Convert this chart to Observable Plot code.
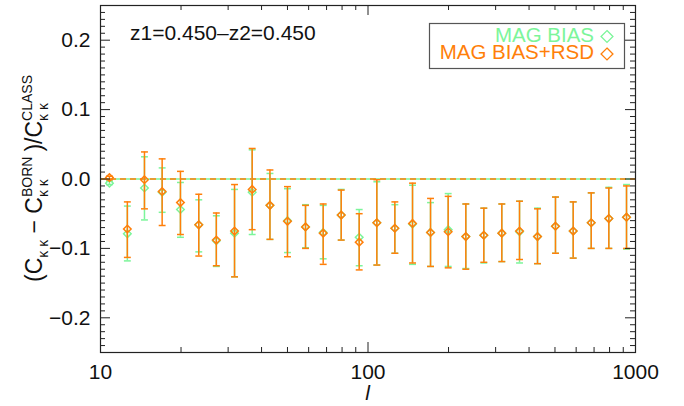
<!DOCTYPE html>
<html><head><meta charset="utf-8">
<script src="https://cdn.jsdelivr.net/npm/d3@7"></script>
<script src="https://cdn.jsdelivr.net/npm/@observablehq/plot@0.6"></script>
<style>body{margin:0;background:#fff} #chart{width:684px;height:406px}</style>
</head><body><div id="chart"></div>
<script>
// multipole bins
const ell = [10.8, 12.6, 14.6, 17.0, 19.9, 23.3, 27.1, 31.7, 36.9, 43.0,
             50.0, 58.4, 68.0, 79.4, 92.7, 107.9, 126.0, 146.7, 171.3, 199.4,
             232.1, 271.0, 316.4, 368.5, 430.2, 502.2, 584.9, 683.0, 794.8, 925.6];
// MAG BIAS series (green)
const magY  = [-0.006,-0.079,-0.013,-0.019,-0.044,-0.066,-0.089,-0.078,-0.019,-0.038,
               -0.060,-0.069,-0.077,-0.052,-0.084,-0.063,-0.071,-0.065,-0.077,-0.073,
               -0.083,-0.081,-0.078,-0.076,-0.083,-0.068,-0.075,-0.063,-0.057,-0.055];
const magLo = [-0.008,-0.118,-0.059,-0.048,-0.084,-0.105,-0.126,-0.141,-0.080,-0.087,
               -0.106,-0.099,-0.115,-0.088,-0.125,-0.124,-0.107,-0.123,-0.126,-0.126,
               -0.129,-0.121,-0.119,-0.121,-0.122,-0.107,-0.114,-0.100,-0.100,-0.101];
const magHi = [-0.003,-0.039, 0.032, 0.016,-0.005,-0.030,-0.053,-0.015, 0.042, 0.008,
               -0.014,-0.037,-0.038,-0.015,-0.044,-0.004,-0.037,-0.009,-0.034,-0.021,
               -0.036,-0.042,-0.036,-0.032,-0.042,-0.026,-0.033,-0.020,-0.012,-0.008];
// MAG BIAS+RSD series (orange)
const rsdY  = [ 0.002,-0.072,-0.001,-0.018,-0.034,-0.066,-0.088,-0.075,-0.015,-0.038,
               -0.061,-0.069,-0.078,-0.052,-0.091,-0.063,-0.071,-0.064,-0.077,-0.076,
               -0.083,-0.081,-0.078,-0.075,-0.083,-0.068,-0.075,-0.063,-0.057,-0.055];
const rsdLo = [-0.001,-0.113,-0.043,-0.067,-0.080,-0.111,-0.125,-0.141,-0.073,-0.087,
               -0.112,-0.100,-0.123,-0.088,-0.131,-0.124,-0.107,-0.121,-0.126,-0.128,
               -0.130,-0.120,-0.119,-0.116,-0.122,-0.107,-0.114,-0.100,-0.100,-0.100];
const rsdHi = [ 0.004,-0.033, 0.039, 0.029, 0.011,-0.022,-0.049,-0.008, 0.044, 0.013,
               -0.011,-0.038,-0.036,-0.016,-0.050,-0.001,-0.033,-0.006,-0.028,-0.025,
               -0.036,-0.042,-0.036,-0.032,-0.043,-0.026,-0.033,-0.020,-0.013,-0.010];

const seriesNames = ["MAG BIAS", "MAG BIAS+RSD"];
const seriesColors = ["#7cf59a", "#ff7f0a"];
const xTickLabels = [10, 100, 1000];
const yTickLabels = [-0.2, -0.1, 0.0, 0.1, 0.2];
const titleText = "z1=0.450\u2013z2=0.450";

const mag = ell.map((l, i) => ({l, y: magY[i], lo: magLo[i], hi: magHi[i]}));
const rsd = ell.map((l, i) => ({l, y: rsdY[i], lo: rsdLo[i], hi: rsdHi[i]}));

const W = 684, H = 406, mL = 100, mR = 49, mT = 5, mB = 54;
const pw = W - mL - mR, ph = H - mT - mB;
const font = "'Liberation Sans', Arial, Helvetica, sans-serif";

const xMinor = [2,3,4,5,6,7,8,9].flatMap(k => [k*10, k*100]);
const yMinor = d3.range(-25, 26).map(k => k / 100).filter(v => Math.abs(Math.round(v*100) % 10) !== 0);

const capSymbol = {draw(ctx, size) { const w = Math.sqrt(size) / 2; ctx.moveTo(-w, 0); ctx.lineTo(w, 0); }};

function seriesMarks(data, color) {
  return [
    Plot.ruleX(data, {x: "l", y1: "lo", y2: "hi", stroke: color, strokeWidth: 1.5}),
    Plot.dot(data, {x: "l", y: "lo", symbol: capSymbol, r: 3.9, stroke: color, strokeWidth: 1.5, fill: "none"}),
    Plot.dot(data, {x: "l", y: "hi", symbol: capSymbol, r: 3.9, stroke: color, strokeWidth: 1.5, fill: "none"}),
    Plot.dot(data, {x: "l", y: "y", symbol: "diamond2", r: 3.4, stroke: color, strokeWidth: 1.5, fill: "none"})
  ];
}

const plot = Plot.plot({
  width: W, height: H,
  marginLeft: mL, marginRight: mR, marginTop: mT, marginBottom: mB,
  style: {fontFamily: font, fontSize: "21px", background: "#fff", color: "#111"},
  x: {type: "log", domain: [10, 1000]},
  y: {domain: [-0.25, 0.25]},
  marks: [
    Plot.ruleY([0], {stroke: seriesColors[0], strokeWidth: 1.3}),
    Plot.ruleY([0], {stroke: seriesColors[1], strokeWidth: 1.3, strokeDasharray: "6,4"}),
    ...seriesMarks(mag, seriesColors[0]),
    ...seriesMarks(rsd, seriesColors[1]),
    // IDL-style inward ticks
    Plot.ruleX(xTickLabels, {x: d => d, insetTop: ph - 10, stroke: "#222"}),
    Plot.ruleX(xTickLabels, {x: d => d, insetBottom: ph - 10, stroke: "#222"}),
    Plot.ruleX(xMinor, {x: d => d, insetTop: ph - 5, stroke: "#222"}),
    Plot.ruleX(xMinor, {x: d => d, insetBottom: ph - 5, stroke: "#222"}),
    Plot.ruleY(yTickLabels, {y: d => d, insetRight: pw - 10, stroke: "#222"}),
    Plot.ruleY(yTickLabels, {y: d => d, insetLeft: pw - 10, stroke: "#222"}),
    Plot.ruleY(yMinor, {y: d => d, insetRight: pw - 5, stroke: "#222"}),
    Plot.ruleY(yMinor, {y: d => d, insetLeft: pw - 5, stroke: "#222"}),
    Plot.frame({stroke: "#222", strokeWidth: 1.2}),
    Plot.axisX({ticks: xTickLabels, tickSize: 0, tickPadding: 12, label: null, tickFormat: d => String(d), fontSize: 21}),
    Plot.axisY({ticks: yTickLabels, tickSize: 0, tickPadding: 10, label: null, tickFormat: d3.format(".1f"), fontSize: 21})
  ]
});

document.getElementById("chart").appendChild(plot);
const svg = d3.select(plot);

// title
svg.append("text").attr("x", 130).attr("y", 40).attr("font-size", 21).attr("fill", "#111")
  .attr("text-anchor", "start").attr("font-family", font).text(titleText);

// legend
const lg = svg.append("g").attr("font-family", font).attr("font-size", 20.5);
lg.append("rect").attr("x", 429.5).attr("y", 23.5).attr("width", 195).attr("height", 45)
  .attr("fill", "#fff").attr("stroke", "#555").attr("stroke-width", 1.2);
seriesNames.forEach((name, i) => {
  const by = 41.5 + i * 17.5;
  lg.append("text").attr("x", 594).attr("y", by).attr("text-anchor", "end")
    .attr("fill", seriesColors[i]).text(name);
  lg.append("path").attr("d", d3.symbol(d3.symbolDiamond2, 90)())
    .attr("transform", `translate(607,${by - 5})`).attr("fill", "none")
    .attr("stroke", seriesColors[i]).attr("stroke-width", 1.3);
});

// x label
svg.append("text").attr("x", mL + pw / 2).attr("y", 400).attr("text-anchor", "middle")
  .attr("font-family", font).attr("font-style", "italic").attr("font-size", 21).attr("fill", "#111").text("l");

// y label with stacked sub/superscripts
const yl = svg.append("text").attr("font-family", font).attr("font-size", 23).attr("fill", "#111")
  .attr("transform", `translate(42,${mT + ph / 2}) rotate(-90)`).attr("text-anchor", "middle");
function main(t, dx, dy) { return yl.append("tspan").attr("font-size", 23).attr("dx", dx).attr("dy", dy).text(t); }
function small(t, dx, dy) { return yl.append("tspan").attr("font-size", 14).attr("dx", dx).attr("dy", dy).text(t); }
main("(C", 0, 0);
small("\u03ba \u03ba", 0, 6);
main(" \u2212 C", 0, -6);
const s1 = small("\u03ba \u03ba", 0, 6);
const k1 = s1.node().getComputedTextLength();
small("BORN", -k1, -16);
main(")/C", 5, 10);
const s2 = small("\u03ba \u03ba", 0, 6);
const k2 = s2.node().getComputedTextLength();
small("CLASS", -k2, -16);
</script></body></html>
